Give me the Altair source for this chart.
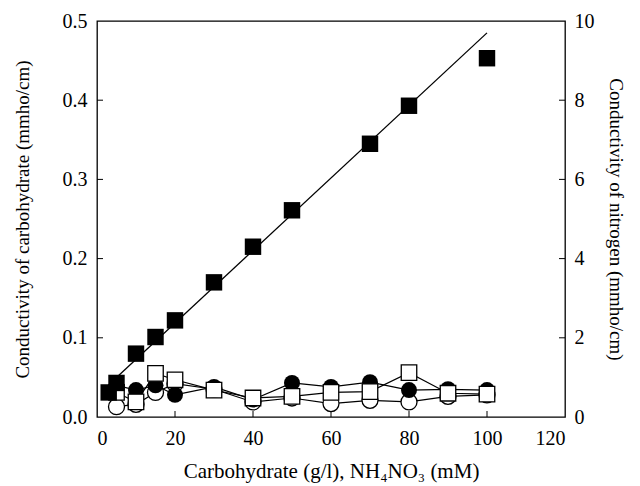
import altair as alt
import pandas as pd

# ---- data ----
# nitrogen (NH4NO3) conductivity, right axis (mmho/cm)
n_x = [3, 5, 10, 15, 20, 30, 40, 50, 70, 80, 100]
n_cond = [0.62, 0.86, 1.60, 2.02, 2.44, 3.40, 4.30, 5.22, 6.90, 7.86, 9.06]
fit_x = [5, 100]
fit_y = [1.0, 9.7]

# carbohydrate conductivity, left axis (mmho/cm)
c_x = [5, 10, 15, 20, 30, 40, 50, 60, 70, 80, 90, 100]
filled_circle = [0.040, 0.034, 0.040, 0.028, 0.038, 0.022, 0.043, 0.038, 0.044, 0.034, 0.035, 0.034]
open_circle = [0.013, 0.016, 0.031, 0.042, 0.035, 0.019, 0.024, 0.017, 0.021, 0.019, 0.026, 0.028]
open_square = [0.031, 0.019, 0.055, 0.047, 0.034, 0.024, 0.026, 0.031, 0.032, 0.056, 0.030, 0.029]

x_ticks = [0, 20, 40, 60, 80, 100, 120]
left_ticks = [0.0, 0.1, 0.2, 0.3, 0.4, 0.5]
right_ticks = [0, 2, 4, 6, 8, 10]

W, H = 468, 396
FONT = "Liberation Serif"

df_c = pd.DataFrame({"x": c_x, "fc": filled_circle, "oc": open_circle, "os": open_square})
df_n = pd.DataFrame({"x": n_x, "n": n_cond})
df_fit = pd.DataFrame({"x": fit_x, "y": fit_y})
df_xt = pd.DataFrame({"v": x_ticks[1:-1]})
df_lt = pd.DataFrame({"v": left_ticks[1:-1]})
df_rt = pd.DataFrame({"v": right_ticks[1:-1]})

x_scale = alt.Scale(domain=[0, 120], nice=False, zero=False)
x_axis = alt.Axis(values=x_ticks, title="Carbohydrate (g/l), NH₄NO₃ (mM)",
                  ticks=False, domain=False, grid=False, labelPadding=11, titlePadding=12,
                  labelFontSize=20, titleFontSize=21)
yl_scale = alt.Scale(domain=[0, 0.5], nice=False)
yl_axis = alt.Axis(values=left_ticks, format=".1f", orient="left",
                   title="Conductivity of carbohydrate (mmho/cm)",
                   ticks=False, domain=False, grid=False, labelPadding=10, titlePadding=30,
                   labelFontSize=20)
yr_scale = alt.Scale(domain=[0, 10], nice=False)
yr_axis = alt.Axis(values=right_ticks, format="d", orient="right",
                   title="Conductivity of nitrogen (mmho/cm)",
                   ticks=False, domain=False, grid=False, labelPadding=9, titlePadding=11,
                   labelFontSize=20)

X = lambda: alt.X("x:Q", scale=x_scale, axis=x_axis)

def yl(field):
    return alt.Y(f"{field}:Q", scale=yl_scale, axis=yl_axis)

def yr(field):
    return alt.Y(f"{field}:Q", scale=yr_scale, axis=yr_axis)

base_c = alt.Chart(df_c)
line_kw = dict(color="black", strokeWidth=1.2)
left_layers = []
for f in ["oc", "fc", "os"]:
    left_layers.append(base_c.mark_line(**line_kw).encode(x=X(), y=yl(f)))
left_layers.append(base_c.mark_point(shape="circle", filled=True, fill="white", stroke="black",
                                     strokeWidth=1.3, size=256, opacity=1).encode(x=X(), y=yl("oc")))
left_layers.append(base_c.mark_point(shape="circle", filled=True, color="black",
                                     size=256, opacity=1).encode(x=X(), y=yl("fc")))
left_layers.append(base_c.mark_point(shape="square", filled=True, fill="white", stroke="black",
                                     strokeWidth=1.3, size=240, opacity=1).encode(x=X(), y=yl("os")))
# inward ticks: x axis and left axis
left_layers.append(alt.Chart(df_xt).mark_rule(color="black", strokeWidth=1).encode(
    x=alt.X("v:Q", scale=x_scale, axis=x_axis), y=alt.value(H), y2=alt.value(H - 6)))
left_layers.append(alt.Chart(df_lt).mark_rule(color="black", strokeWidth=1).encode(
    y=alt.Y("v:Q", scale=yl_scale, axis=yl_axis), x=alt.value(0), x2=alt.value(6)))
left = alt.layer(*left_layers)

right_layers = [
    alt.Chart(df_fit).mark_line(color="black", strokeWidth=1.3).encode(x=X(), y=yr("y")),
    alt.Chart(df_n).mark_point(shape="square", filled=True, color="black", size=270,
                               opacity=1).encode(x=X(), y=yr("n")),
    alt.Chart(df_rt).mark_rule(color="black", strokeWidth=1).encode(
        y=alt.Y("v:Q", scale=yr_scale, axis=yr_axis), x=alt.value(W), x2=alt.value(W - 6)),
]
right = alt.layer(*right_layers)

chart = (
    alt.layer(left, right)
    .resolve_scale(y="independent")
    .properties(width=W, height=H, autosize=alt.AutoSizeParams(type="none"),
                padding={"left": 97, "top": 21, "right": 75, "bottom": 69},
                background="white")
    .configure_view(stroke="black", strokeWidth=1.3)
    .configure_axis(labelFont=FONT, titleFont=FONT, labelFontSize=19, titleFontSize=19,
                    labelColor="black", titleColor="black", titleFontWeight="normal")
)

chart.save("out.html", embed_options={"renderer": "svg", "actions": False})
